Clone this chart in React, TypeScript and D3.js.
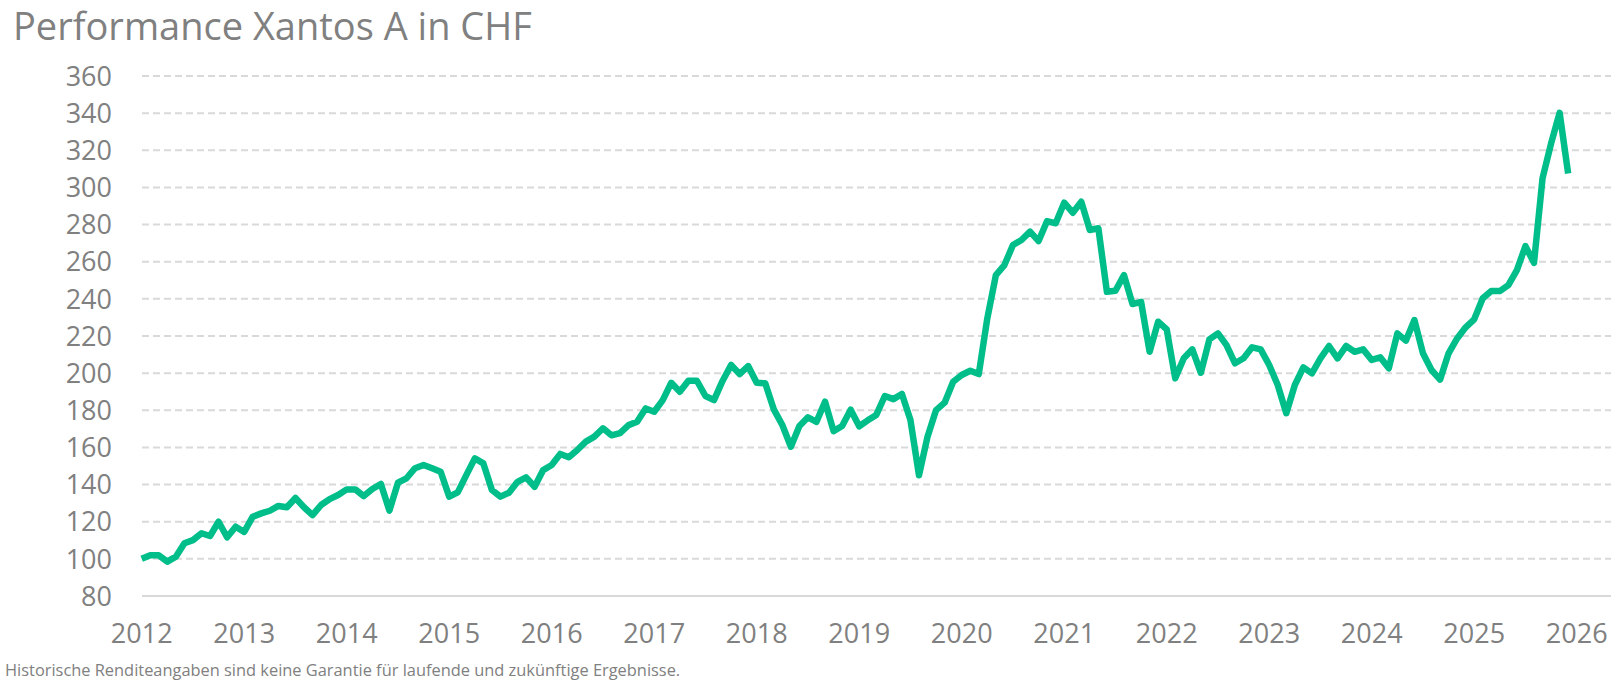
import { useMemo } from 'react';
import * as d3 from 'd3';

// monthly index values, Jan 2012 .. Dec 2025
const startYear = 2012;
const performance: number[] = [
  100, 101.9, 101.9, 98.5, 101.2, 108.4, 110.1, 113.8, 112.3, 120, 111.6, 117.3,
  114.5, 122.7, 124.5, 125.9, 128.5, 127.8, 132.8, 127.8, 123.6, 129, 132.2, 134.4,
  137.4, 137.4, 133.8, 137.6, 140.3, 126, 141, 143.4, 148.8, 150.5, 148.8, 146.9,
  133.5, 135.8, 145.1, 154.1, 151.4, 137.1, 133.5, 135.6, 141.5, 143.9, 138.8, 147.8,
  150.5, 156.5, 154.7, 158.6, 163.1, 165.8, 170.3, 166.5, 167.7, 172, 173.8, 181,
  179.2, 185.5, 194.8, 190, 195.9, 195.9, 187.7, 185.5, 195.8, 204.4, 199.5, 203.8,
  194.8, 194.5, 180.5, 172.1, 160.4, 171.5, 176.2, 173.8, 184.6, 168.8, 171.5, 180.3,
  171.4, 174.6, 177.5, 187.7, 186, 188.8, 174.8, 145, 165.8, 180.1, 184.1, 195.4,
  199, 201.3, 199.5, 229.5, 252.8, 258.2, 269, 271.7, 276.2, 271.1, 281.9, 280.7,
  291.8, 286.4, 292.3, 277.1, 278, 243.8, 244.4, 252.8, 237.2, 238.4, 211.5, 227.7,
  223.6, 197.2, 208, 212.8, 200.2, 218.2, 221.4, 215.1, 205.3, 208, 213.9, 212.8,
  204.4, 193.6, 178.4, 193.6, 203.1, 199.9, 208, 214.6, 208, 214.6, 211.5, 212.8,
  207.1, 208.5, 202.6, 221.4, 217.5, 228.6, 210.7, 201.7, 196.5, 210.7, 218.7, 224.7,
  229, 240.3, 244.2, 244.2, 247.4, 255.5, 268.4, 259.4, 304.9, 323.7, 340.2, 307.5,
];
const yTicks = [80, 100, 120, 140, 160, 180, 200, 220, 240, 260, 280, 300, 320, 340, 360];
const xTicks = [2012, 2013, 2014, 2015, 2016, 2017, 2018, 2019, 2020, 2021, 2022, 2023, 2024, 2025, 2026];
const title = 'Performance Xantos A in CHF';
const footnote = 'Historische Renditeangaben sind keine Garantie für laufende und zukünftige Ergebnisse.';

const width = 1619;
const height = 682;
const plotLeft = 142;
const plotRight = 1611;
const textColor = '#808080';
const gridColor = '#d9d9d9';
const lineColor = '#00be8a';
const font = '"Open Sans", sans-serif';

export default function App() {
  const x = useMemo(
    () => d3.scaleLinear().domain([2012, 2026]).range([141.7, 1576.7]),
    [],
  );
  const y = useMemo(() => d3.scaleLinear().domain([80, 360]).range([596, 76]), []);

  const points: [number, number][] = performance.map((v, i) => [startYear + i / 12, v]);

  const line = d3
    .line<[number, number]>()
    .x((d) => x(d[0]))
    .y((d) => y(d[1]));

  return (
    <svg
      width={width}
      height={height}
      style={{ position: 'absolute', left: 0, top: 0, background: '#fff' }}
    >
      <text x={13} y={40} fontFamily={font} fontSize={38} fill={textColor}>
        {title}
      </text>

      {/* horizontal grid */}
      {yTicks.map((t) =>
        t === 80 ? (
          <line key={t} x1={plotLeft} x2={plotRight} y1={y(t)} y2={y(t)} stroke={gridColor} strokeWidth={2} />
        ) : (
          <line
            key={t}
            x1={plotLeft}
            x2={plotRight}
            y1={y(t)}
            y2={y(t)}
            stroke={gridColor}
            strokeWidth={2}
            strokeDasharray="7 4"
          />
        ),
      )}

      {yTicks.map((t) => (
        <text
          key={t}
          x={112}
          y={y(t)}
          dy="0.36em"
          textAnchor="end"
          fontFamily={font}
          fontSize={27}
          fill={textColor}
        >
          {t}
        </text>
      ))}

      {xTicks.map((t) => (
        <text
          key={t}
          x={x(t)}
          y={643}
          textAnchor="middle"
          fontFamily={font}
          fontSize={27}
          fill={textColor}
        >
          {t}
        </text>
      ))}

      <path
        d={line(points)!}
        fill="none"
        stroke={lineColor}
        strokeWidth={6.5}
        strokeLinejoin="round"
        strokeLinecap="butt"
      />

      <text x={5} y={676} fontFamily={font} fontSize={16.4} fill={textColor}>
        {footnote}
      </text>
    </svg>
  );
}
